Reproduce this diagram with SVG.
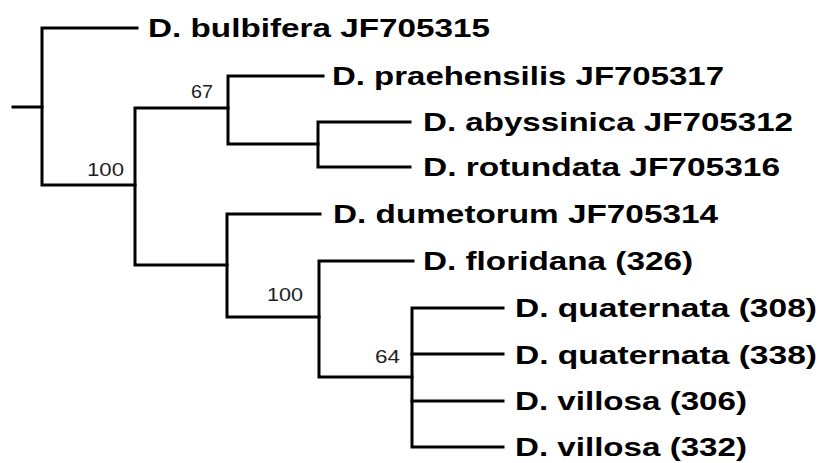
<svg xmlns="http://www.w3.org/2000/svg" width="827" height="463" viewBox="0 0 827 463">
<style>
.br{fill:none;stroke:#000;stroke-width:3;stroke-linecap:square;stroke-linejoin:miter}
.lab{font-family:"Liberation Sans",Arial,sans-serif;font-weight:bold;font-size:26px;fill:#000}
.bs{font-family:"Liberation Sans",Arial,sans-serif;font-size:18px;fill:#222}
</style>
<rect width="827" height="463" fill="#fff"/>
<g id="connectors">
<path class="br" d="M13 107H42"/>
<path class="br" d="M137 28H42V185H135"/>
<path class="br" d="M228 108H135V265H227"/>
<path class="br" d="M323 76H228V144H318"/>
<path class="br" d="M410 122H318V167H410"/>
<path class="br" d="M320 214H227V317H319"/>
<path class="br" d="M413 261H319V377H412"/>
<path class="br" d="M503 308H412V447H503"/>
<path class="br" d="M412 354H503M412 401H503"/>
</g>
<g id="support">
<text id="bs67" class="bs" x="191" y="98" textLength="22" lengthAdjust="spacingAndGlyphs">67</text>
<text id="bs100a" class="bs" x="87" y="176" textLength="37" lengthAdjust="spacingAndGlyphs">100</text>
<text id="bs100b" class="bs" x="267" y="301" textLength="36" lengthAdjust="spacingAndGlyphs">100</text>
<text id="bs64" class="bs" x="375" y="363" textLength="25" lengthAdjust="spacingAndGlyphs">64</text>
</g>
<g id="leaf-bulbifera"><text class="lab" x="148" y="37" textLength="342" lengthAdjust="spacingAndGlyphs">D. bulbifera JF705315</text></g>
<g id="leaf-praehensilis"><text class="lab" x="332" y="85" textLength="392" lengthAdjust="spacingAndGlyphs">D. praehensilis JF705317</text></g>
<g id="leaf-abyssinica"><text class="lab" x="423" y="131" textLength="370" lengthAdjust="spacingAndGlyphs">D. abyssinica JF705312</text></g>
<g id="leaf-rotundata"><text class="lab" x="423" y="176" textLength="357" lengthAdjust="spacingAndGlyphs">D. rotundata JF705316</text></g>
<g id="leaf-dumetorum"><text class="lab" x="333" y="223" textLength="385" lengthAdjust="spacingAndGlyphs">D. dumetorum JF705314</text></g>
<g id="leaf-floridana"><text class="lab" x="423" y="270" textLength="270" lengthAdjust="spacingAndGlyphs">D. floridana (326)</text></g>
<g id="leaf-quaternata308"><text class="lab" x="515" y="317" textLength="302" lengthAdjust="spacingAndGlyphs">D. quaternata (308)</text></g>
<g id="leaf-quaternata338"><text class="lab" x="515" y="364" textLength="302" lengthAdjust="spacingAndGlyphs">D. quaternata (338)</text></g>
<g id="leaf-villosa306"><text class="lab" x="515" y="410" textLength="232" lengthAdjust="spacingAndGlyphs">D. villosa (306)</text></g>
<g id="leaf-villosa332"><text class="lab" x="515" y="456" textLength="232" lengthAdjust="spacingAndGlyphs">D. villosa (332)</text></g>
</svg>
